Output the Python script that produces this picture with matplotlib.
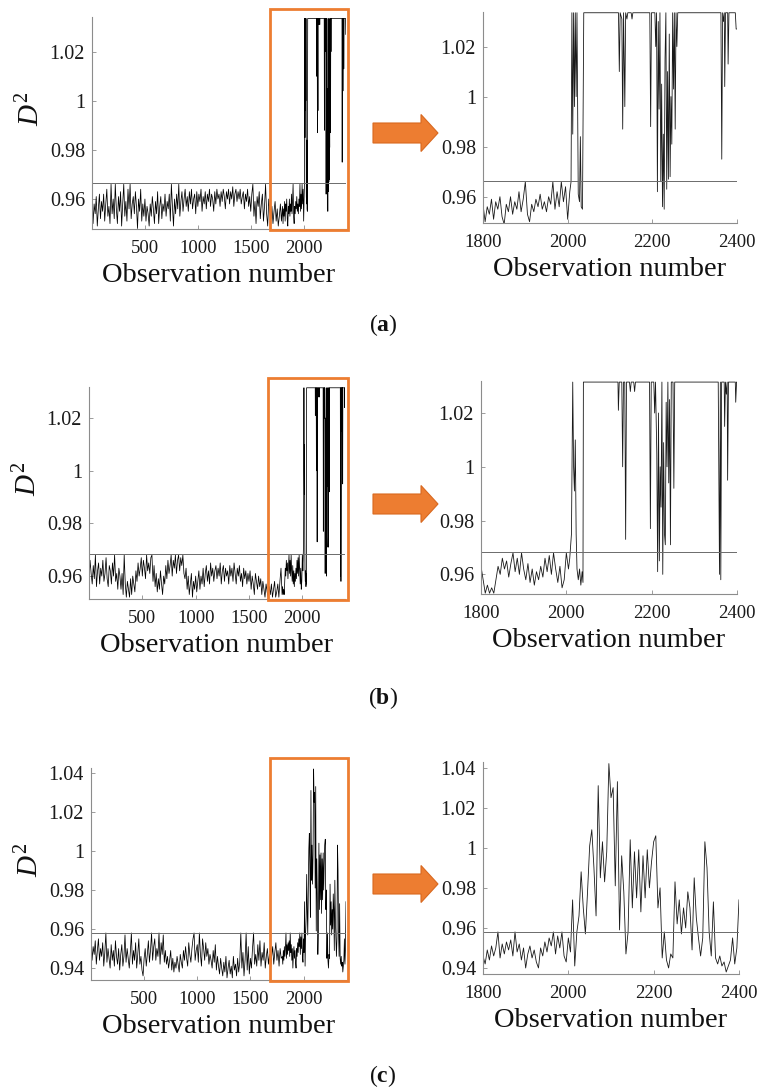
import numpy as np
import matplotlib.pyplot as plt
from matplotlib.patches import Rectangle, Polygon

plt.rcParams['font.family'] = ['Liberation Serif', 'DejaVu Serif']
plt.rcParams['mathtext.fontset'] = 'custom'
plt.rcParams['mathtext.rm'] = 'Liberation Serif'
plt.rcParams['mathtext.it'] = 'Liberation Serif:italic'
plt.rcParams['mathtext.bf'] = 'Liberation Serif:bold'

W, H = 761, 1089
ORANGE = '#ED7D31'

# observation numbers of the long history (every 10th obs up to 1790)
obs_hist = list(range(0, 1800, 10))
# start of the zoomed window, every 5th obs up to 1995
obs_win = list(range(1800, 2000, 5))

# all D^2 values below are in thousandths
# ---- (a)
d2_a_hist = [
    963, 950, 958, 954, 961, 949, 956, 962, 952, 959,
    955, 962, 951, 958, 964, 953, 957, 950, 966, 954,
    960, 952, 966, 956, 950, 961, 955, 963, 949, 958,
    966, 953, 959, 951, 964, 956, 966, 952, 958, 961,
    954, 963, 957, 948, 960, 955, 964, 951, 958, 953,
    960, 951, 957, 954, 949, 958, 953, 961, 956, 950,
    959, 954, 963, 950, 957, 961, 952, 958, 955, 962,
    953, 959, 956, 962, 951, 966, 957, 949, 960, 954,
    962, 956, 966, 953, 959, 963, 955, 960, 964, 957,
    961, 955, 963, 958, 964, 956, 960, 962, 954, 963,
    957, 962, 959, 964, 955, 961, 958, 963, 956, 962,
    959, 964, 957, 962, 960, 955, 963, 958, 964, 960,
    962, 957, 963, 959, 964, 961, 956, 963, 960, 964,
    958, 963, 960, 965, 957, 962, 964, 959, 963, 960,
    964, 958, 961, 963, 956, 962, 959, 964, 957, 961,
    955, 962, 966, 953, 959, 950, 961, 957, 963, 952,
    958, 962, 951, 957, 966, 954, 949, 960, 955, 952,
    957, 950, 955, 959, 951, 956, 949, 953, 958, 951,
]
d2_a_win = [
    957, 950, 956, 953, 959, 951, 958, 955, 960, 952,
    949, 957, 954, 960, 953, 958, 955, 962, 954, 959,
    966, 953, 950, 957, 954, 959, 956, 961, 955, 958,
    954, 960, 957, 966, 955, 962, 956, 966, 958, 964,
]
obs_a_tail = [
    2000, 2005, 2008, 2010, 2012, 2014, 2016, 2018, 2020, 2022, 2025, 2028, 2030, 2032, 2035, 2038,
    2120, 2122, 2124, 2128, 2130, 2132, 2135, 2137, 2140, 2142,
    2150, 2152, 2154,
    2194, 2196, 2198,
    2206, 2208, 2210, 2212, 2214, 2216, 2218, 2220, 2222, 2224, 2226, 2228, 2230, 2232,
    2234, 2236, 2238, 2240, 2242, 2244, 2246, 2248, 2250, 2252, 2254, 2256, 2258, 2260,
    2362, 2364, 2366, 2368, 2370, 2371, 2373, 2378, 2379, 2381, 2396, 2398, 2400,
]
d2_a_tail = [
    951, 962, 966, 1033.5, 985, 1033.5, 996, 1033.5, 1000, 1033.5, 961, 958, 984, 956, 955, 1033.5,
    1033.5, 1010, 1033.5, 1031, 987, 1033.5, 996, 1033.5, 1031, 1033.5,
    1033.5, 1031, 1033.5,
    1033.5, 988, 1033.5,
    1033.5, 1020, 1033.5, 962, 1030, 995, 1033.5, 966, 1005, 956, 985, 955, 1015, 1033.5,
    963, 1010, 967, 1025, 968, 1000, 981, 1033.5, 1003, 1033.5, 987, 1033.5, 1020, 1033.5,
    1033.5, 975, 1033.5, 1030, 1033.5, 1004, 1033.5, 1033.5, 1013, 1033.5, 1033.5, 1027, 1027,
]

# ---- (b)
d2_b_hist = [
    958, 966, 961, 957, 964, 959, 968, 956, 962, 965,
    957, 963, 960, 966, 958, 961, 967, 959, 956, 964,
    962, 957, 965, 960, 968, 958, 961, 955, 963, 960,
    955, 961, 953, 968, 957, 952, 958, 955, 952, 959,
    953, 960, 957, 954, 962, 958, 965, 960, 963, 967,
    960, 966, 963, 959, 968, 962, 965, 961, 967, 968,
    958, 964, 956, 961, 954, 959, 955, 962, 957, 953,
    960, 957, 964, 959, 966, 961, 964, 968, 960, 966,
    963, 968, 961, 966, 968, 962, 967, 964, 968, 961,
    959, 963, 955, 960, 953, 957, 961, 952, 958, 955,
    960, 954, 958, 962, 955, 960, 957, 963, 956, 961,
    964, 958, 962, 957, 965, 960, 963, 958, 962, 964,
    959, 963, 960, 965, 957, 962, 964, 958, 963, 960,
    962, 957, 964, 960, 963, 958, 965, 961, 957, 963,
    960, 964, 958, 961, 956, 963, 959, 962, 957, 961,
    958, 962, 955, 960, 957, 953, 961, 958, 955, 960,
    956, 959, 953, 958, 955, 952, 957, 954, 952, 956,
    953, 957, 952, 955, 958, 952, 954, 957, 952, 958,
]
d2_b_win = [
    963, 958, 953, 956, 953, 955, 953, 958, 963, 960,
    966, 962, 965, 959, 964, 968, 961, 966, 960, 968,
    962, 958, 964, 957, 962, 956, 961, 958, 963, 959,
    966, 961, 967, 960, 968, 962, 957, 963, 955, 958,
]
obs_b_tail = [
    2000, 2005, 2008, 2012, 2015, 2017, 2019, 2021, 2023, 2025, 2028, 2031, 2034, 2037, 2039, 2040,
    2121, 2122, 2124, 2130, 2132, 2134, 2137, 2139, 2141, 2148, 2150, 2152, 2158, 2160, 2162,
    2195, 2197, 2199,
    2205, 2207, 2209, 2212, 2214, 2216, 2218, 2220, 2222, 2224, 2226, 2228,
    2230, 2232, 2234, 2236, 2238, 2240, 2242, 2244, 2246, 2250, 2252, 2254,
    2356, 2359, 2361, 2362, 2364, 2370, 2371, 2373, 2375, 2377, 2378, 2380, 2396, 2397, 2399, 2400,
]
d2_b_tail = [
    968, 962, 966, 975, 1031.5, 1000, 991, 1010, 975, 962, 958, 962, 956, 961, 957, 1031.5,
    1031.5, 1021, 1031.5, 1031.5, 1000, 1031.5, 1031.5, 973, 1031.5, 1031.5, 1028, 1031.5, 1031.5, 1028, 1031.5,
    1031.5, 977, 1031.5,
    1031.5, 1020, 1031.5, 1005, 961, 1020, 965, 1000, 985, 1031.5, 960, 1009,
    975, 971, 1024, 1000, 1031.5, 994, 1025, 971, 1031.5, 1031.5, 992, 1031.5,
    1031.5, 960, 1031.5, 958, 1031.5, 1031.5, 1015, 1031.5, 1027, 1031.5, 995, 1031.5, 1031.5, 1024, 1031.5, 1031.5,
]

# ---- (c)
d2_c_hist = [
    956, 944, 951, 947, 954, 942, 949, 955, 944, 950,
    946, 953, 941, 948, 958, 943, 950, 945, 940, 952,
    944, 949, 941, 954, 946, 942, 950, 939, 947, 952,
    941, 946, 957, 943, 950, 945, 940, 948, 958, 942,
    949, 944, 953, 940, 947, 955, 942, 946, 939, 936,
    945, 950, 941, 947, 954, 943, 949, 958, 944, 951,
    955, 944, 950, 946, 958, 942, 953, 947, 957, 943,
    949, 942, 946, 940, 944, 949, 939, 945, 938, 943,
    940, 946, 942, 938, 947, 943, 940, 949, 944, 951,
    945, 941, 953, 947, 943, 950, 955, 958, 944, 949,
    952, 943, 958, 947, 941, 955, 950, 944, 953, 946,
    950, 942, 947, 944, 940, 949, 943, 952, 939, 946,
    941, 937, 945, 940, 936, 943, 938, 946, 935, 940,
    944, 937, 941, 935, 946, 939, 942, 936, 945, 938,
    943, 958, 940, 948, 936, 944, 958, 939, 951, 937,
    945, 940, 950, 958, 942, 947, 941, 952, 944, 954,
    941, 948, 944, 953, 940, 946, 950, 942, 947, 940,
    946, 951, 942, 948, 953, 944, 949, 941, 950, 945,
]
d2_c_win = [
    946, 942, 949, 944, 951, 946, 950, 958, 945, 952,
    947, 953, 949, 954, 946, 958, 948, 952, 944, 950,
    940, 947, 951, 945, 949, 943, 940, 950, 946, 953,
    948, 955, 951, 958, 947, 956, 950, 958, 946, 943,
]
obs_c_tail = list(range(2000, 2401, 5))
d2_c_tail = [
    955, 948, 974, 941, 958, 966, 988, 970, 957, 978,
    1001, 1009, 990, 966, 1031, 985, 1003, 983, 998, 1042,
    1025, 1030, 981, 1033, 959, 996, 978, 947, 958, 1004,
    970, 998, 975, 999, 968, 996, 975, 999, 980, 993,
    1003, 1006, 970, 980, 945, 958, 944, 940, 947, 945,
    983, 962, 974, 957, 970, 960, 978, 970, 949, 985,
    965, 955, 946, 955, 1003, 990, 958, 946, 973, 945,
    942, 946, 941, 943, 938, 941, 944, 955, 942, 950,
    974,
]

ucl = {'a': 0.9664, 'b': 0.9685, 'c': 0.9580}

panels = [
    # tag, data, left px box, right px box, left ylim, right ylim, yticks, orange frame px, arrow y, caption y
    ('a', (d2_a_hist, d2_a_win, obs_a_tail, d2_a_tail),
     (92, 17, 346, 229), (483, 12, 737, 223), (0.9478, 1.0341), (0.9495, 1.0338),
     [0.96, 0.98, 1.0, 1.02], (270, 9, 348, 230), 133, 325),
    ('b', (d2_b_hist, d2_b_win, obs_b_tail, d2_b_tail),
     (89, 387, 345, 599), (481, 381, 737, 594), (0.9513, 1.0318), (0.9527, 1.0319),
     [0.96, 0.98, 1.0, 1.02], (268, 378, 348, 600), 504, 698),
    ('c', (d2_c_hist, d2_c_win, obs_c_tail, d2_c_tail),
     (91, 768, 346, 980), (483, 762, 739, 974), (0.9339, 1.0425), (0.9370, 1.0428),
     [0.94, 0.96, 0.98, 1.0, 1.02, 1.04], (270, 758, 348, 981), 884, 1076),
]

fig = plt.figure(figsize=(W / 100, H / 100), dpi=100)


def px_axes(box):
    x0, y0, x1, y1 = box
    return fig.add_axes([x0 / W, 1 - y1 / H, (x1 - x0) / W, (y1 - y0) / H])


def style(ax, xticks, yticks, ylim, xlim):
    for s in ('top', 'right'):
        ax.spines[s].set_visible(False)
    for s in ('left', 'bottom'):
        ax.spines[s].set_color('#8c8c8c')
        ax.spines[s].set_linewidth(0.8)
    ax.set_xlim(*xlim)
    ax.set_ylim(*ylim)
    ax.set_xticks(xticks)
    ax.set_xticklabels([str(v) for v in xticks])
    ax.set_yticks(yticks)
    ax.set_yticklabels([f'{v:g}' for v in yticks])
    ax.tick_params(direction='in', length=3, width=0.6, color='#8c8c8c', labelcolor='#1a1a1a')
    ax.tick_params(axis='x', labelsize=13.5, pad=8)
    ax.tick_params(axis='y', labelsize=14.5, pad=5)
    ax.set_xlabel('Observation number', fontsize=20.5, labelpad=4, color='#111111')


for tag, (hist, win, tail_obs, tail), lbox, rbox, lylim, rylim, yticks, obox, arr_y, cap_y in panels:
    zoom_obs = np.array(obs_win + tail_obs)
    zoom_d2 = np.array(win + tail) / 1000.0
    obs = np.concatenate([obs_hist, zoom_obs])
    d2 = np.concatenate([np.array(hist) / 1000.0, zoom_d2])

    axl = px_axes(lbox)
    axl.plot(obs, d2, color='black', lw=0.55)
    axl.axhline(ucl[tag], color='#6b6b6b', lw=0.7)
    style(axl, [500, 1000, 1500, 2000], yticks, lylim, (0, 2400))
    axl.set_ylabel(r'$D^2$', fontsize=21, color='#111111')
    axl.yaxis.set_label_coords(-0.184, 0.565)

    axr = px_axes(rbox)
    axr.plot(zoom_obs, zoom_d2, color='#1a1a1a', lw=0.6)
    axr.axhline(ucl[tag], color='#6b6b6b', lw=0.7)
    style(axr, [1800, 2000, 2200, 2400], yticks, rylim, (1800, 2400))

    # orange frame marking the zoomed window
    x0, y0, x1, y1 = obox
    fig.patches.append(Rectangle((x0 / W, 1 - y1 / H), (x1 - x0) / W, (y1 - y0) / H,
                                 transform=fig.transFigure, fill=False,
                                 edgecolor=ORANGE, lw=2.0))

    # block arrow between the panels
    cy = arr_y
    verts = [(373, cy - 10), (421, cy - 10), (421, cy - 18.5), (438, cy),
             (421, cy + 18.5), (421, cy + 10), (373, cy + 10)]
    fig.patches.append(Polygon([(vx / W, 1 - vy / H) for vx, vy in verts], closed=True,
                               transform=fig.transFigure, facecolor=ORANGE,
                               edgecolor='#d8681f', lw=0.8))

    fig.text(383 / W, 1 - cap_y / H, r'($\mathbf{' + tag + '}$)', ha='center', va='center',
             fontsize=17, color='#111111')

fig.savefig('out.png', dpi=100)
